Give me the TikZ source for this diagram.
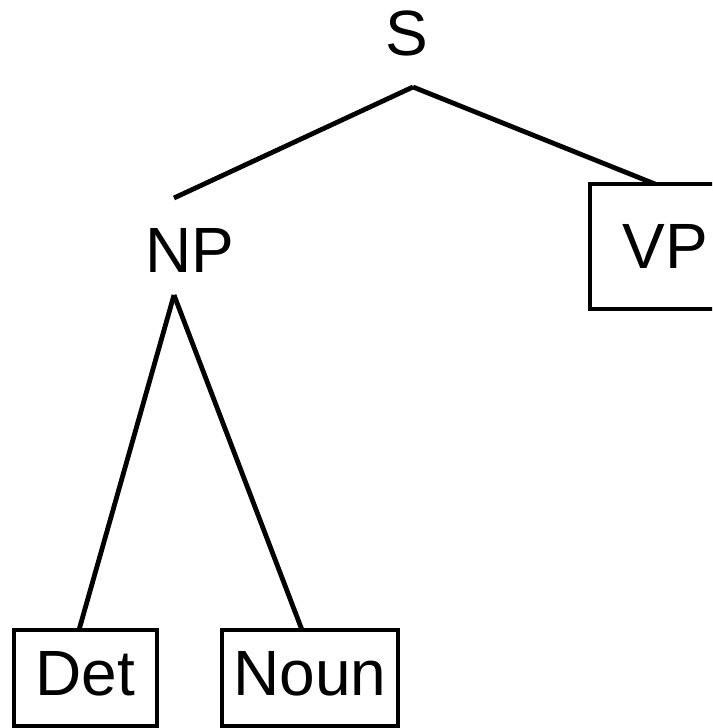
\documentclass[tikz,border=0pt]{standalone}
\usepackage{fontspec}
\setmainfont{Liberation Sans}
\begin{document}
\begin{tikzpicture}[x=0.5pt, y=-0.5pt, line width=2.4pt]
\tikzstyle{cat}=[font=\fontsize{32}{38}\selectfont, inner sep=0pt, outer sep=0pt]
\tikzstyle{box}=[cat, draw, minimum height=48pt, text depth=4.5pt]

\clip (0, 0) rectangle (712, 728);

% categories
\node (S) at (406.5, 55) [cat, anchor=base] {S};
\node (NP) at (190, 272) [cat, anchor=base] {NP};
\node (VP) at (665.5, 246.5) [cat, draw, minimum width=75.5pt, minimum height=62.5pt] {VP};
\node (Det) at (85.5, 678) [box, minimum width=71.5pt] {Det};
\node (Noun) at (310, 678) [box, minimum width=88pt] {Noun};

% where the branches meet
\coordinate (S-foot) at (413, 87);
\coordinate (NP-head) at (174, 198);
\coordinate (NP-foot) at (174, 295);

\draw (S-foot) -- (NP-head);
\draw (S-foot) -- ([xshift=-5.25pt]VP.north);
\draw (NP-foot) -- ([xshift=-3.25pt]Det.north);
\draw (NP-foot) -- ([xshift=-4pt]Noun.north);

\end{tikzpicture}
\end{document}
